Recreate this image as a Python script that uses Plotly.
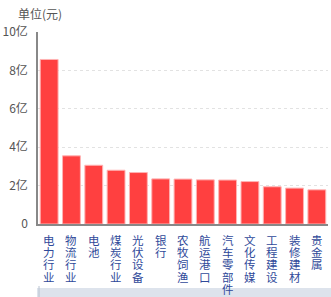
import plotly.graph_objects as go

categories = ["电力行业", "物流行业", "电池", "煤炭行业", "光伏设备", "银行", "农牧饲渔",
              "航运港口", "汽车零部件", "文化传媒", "工程建设", "装修建材", "贵金属"]
values = [8.57, 3.55, 3.06, 2.80, 2.68, 2.35, 2.34, 2.30, 2.29, 2.21, 1.94, 1.87, 1.78]  # 亿元
tick_vals = [0, 2, 4, 6, 8, 10]
tick_text = ["0", "2亿", "4亿", "6亿", "8亿", "10亿"]

W, H = 331, 297
L, R, T, B = 38, 3, 32, 73
plot_h = H - T - B
pw = W - L - R

fig = go.Figure()
fig.add_trace(go.Bar(
    x=categories, y=values,
    marker=dict(color="#ff4040", line=dict(color="#ffb3b3", width=1)),
    width=0.8,
    hoverinfo="x+y",
))

annotations = []
pitch = 12.2
for cat in categories:
    for i, ch in enumerate(cat):
        annotations.append(dict(
            x=cat, xref="x", y=0, yref="paper", text=ch, showarrow=False,
            yanchor="middle", xanchor="center", height=12,
            yshift=-(16 + i * pitch),
            font=dict(size=11.5, color="#2f4a9a", family="Noto Sans CJK SC"),
        ))
annotations.append(dict(
    x=(16 - L) / pw, xref="paper", y=1, yref="paper", yshift=19,
    text="单位(元)", showarrow=False, xanchor="left", yanchor="middle",
    font=dict(size=12, color="#555555", family="Noto Sans CJK SC"),
))

fig.update_layout(
    width=W, height=H,
    margin=dict(l=L, r=R, t=T, b=B),
    paper_bgcolor="white", plot_bgcolor="white",
    showlegend=False,
    font=dict(family="Noto Sans CJK SC", size=12, color="#555555"),
    annotations=annotations,
    shapes=[
        dict(type="rect", xref="paper", yref="paper",
             x0=(37 - L) / pw, x1=(W - L) / pw,
             y0=-(288 - (T + plot_h)) / plot_h, y1=-(H - (T + plot_h)) / plot_h,
             fillcolor="#dde3ec", line=dict(width=0), layer="below"),
        dict(type="line", xref="paper", yref="paper",
             x0=(39 - L) / pw, x1=(39 - L) / pw,
             y0=-(286 - (T + plot_h)) / plot_h, y1=-(H - (T + plot_h)) / plot_h,
             line=dict(color="#b8c2d0", width=1)),
    ],
    bargap=0.2,
)
fig.update_xaxes(
    showticklabels=False, showgrid=False, showline=True, linecolor="#888888",
    linewidth=1.5, ticks="", range=[-0.5, len(categories) - 0.5], fixedrange=True,
)
fig.update_yaxes(
    range=[0, 10], tickvals=tick_vals, ticktext=tick_text,
    showgrid=True, gridcolor="#e2e2e2", griddash="3px,3px", gridwidth=1,
    showline=True, linecolor="#888888", linewidth=1.5, ticks="",
    zeroline=False, ticklabelstandoff=6,
    tickfont=dict(size=12, color="#555555"), fixedrange=True,
)

fig.write_html("out.html")
